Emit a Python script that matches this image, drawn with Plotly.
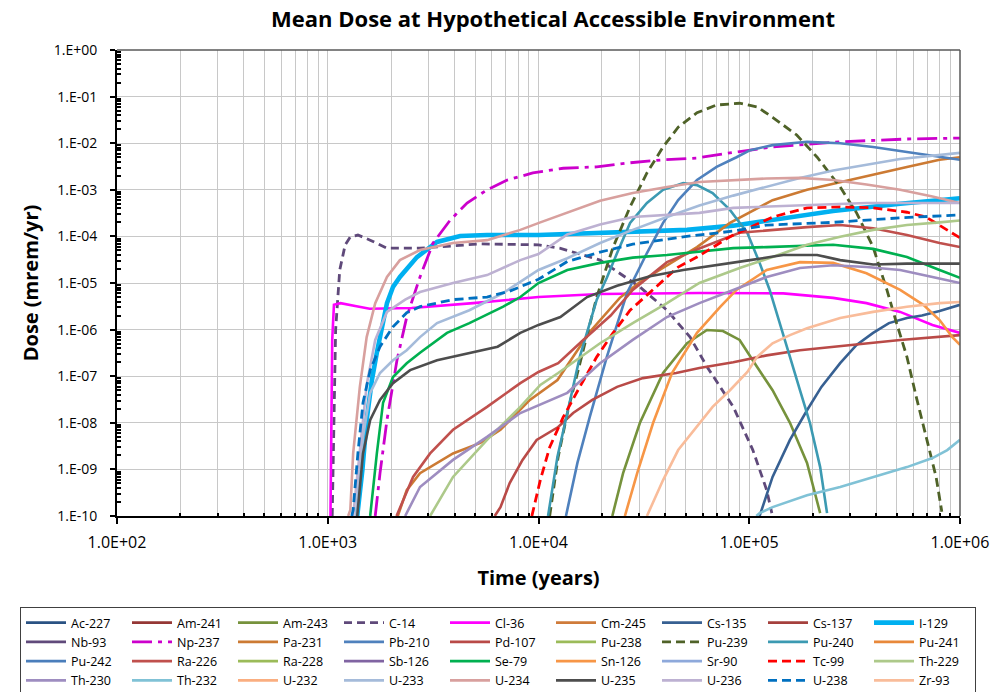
import plotly.graph_objects as go

# ---- Mean dose (mrem/yr) versus time (years) for each nuclide ----
# Nuclides whose dose never rises above the plotted floor have empty lists.
t_ac227 = []
d_ac227 = []
t_am241 = []
d_am241 = []
t_am243 = [2.24e4, 2.52e4, 3.03e4, 3.9e4, 5.07e4, 6.3e4, 7.5e4, 9.0e4, 1.09e5, 1.29e5, 1.56e5, 1.88e5, 2.17e5]
d_am243 = [1e-10, 8.3e-10, 1.0e-8, 1.17e-7, 5.1e-7, 9.8e-7, 9.3e-7, 6.0e-7, 1.58e-7, 5.0e-8, 1.0e-8, 1.38e-9, 1.15e-10]
t_c14 = [1.05e3, 1.07e3, 1.09e3, 1.14e3, 1.21e3, 1.28e3, 1.39e3, 1.59e3, 1.91e3, 2.74e3, 5.3e3, 1.0e4,
         1.26e4, 1.96e4, 3.03e4, 4.07e4, 5.24e4, 6.3e4, 8.4e4, 1.04e5, 1.21e5, 1.28e5]
d_c14 = [1e-10, 3.1e-8, 1.0e-6, 1.9e-5, 6.6e-5, 9.8e-5, 1.07e-4, 8.3e-5, 5.6e-5, 5.6e-5, 6.9e-5, 6.6e-5,
         5.6e-5, 3.1e-5, 8.2e-6, 2.6e-6, 6.9e-7, 1.6e-7, 2.2e-8, 2.6e-9, 3.6e-10, 1.15e-10]
t_cl36 = [1.03e3, 1.04e3, 1.05e3, 1.07e3, 1.15e3, 1.35e3, 1.58e3, 2.5e3, 4.9e3, 1.0e4, 1.96e4, 5.8e4,
          1.45e5, 2.5e5, 3.6e5, 5.2e5, 7.4e5, 1.0e6]
d_cl36 = [1e-10, 1.15e-8, 6.0e-7, 3.4e-6, 3.7e-6, 3.2e-6, 2.8e-6, 2.9e-6, 3.7e-6, 5.0e-6, 5.8e-6, 6.1e-6,
          6.0e-6, 4.8e-6, 3.7e-6, 2.4e-6, 1.26e-6, 8.5e-7]
t_cm245 = []
d_cm245 = []
t_cs135 = [1.12e5, 1.29e5, 1.56e5, 1.88e5, 2.2e5, 2.7e5, 3.23e5, 3.87e5, 4.6e5, 5.6e5, 6.6e5, 8.0e5, 1.0e6]
d_cs135 = [1e-10, 6.9e-10, 4.3e-9, 1.86e-8, 5.9e-8, 1.9e-7, 4.7e-7, 8.5e-7, 1.38e-6, 1.78e-6, 2.0e-6, 2.5e-6, 3.4e-6]
t_cs137 = []
d_cs137 = []
t_i129 = [1.38e3, 1.46e3, 1.53e3, 1.62e3, 1.71e3, 1.83e3, 1.91e3, 2.04e3, 2.2e3, 2.65e3, 3.3e3, 4.25e3,
          5.7e3, 1.0e4, 1.96e4, 5.07e4, 8.4e4, 1.21e5, 2.5e5, 5.2e5, 1.0e6]
d_i129 = [1e-10, 9.8e-10, 1.15e-8, 8.3e-8, 3.2e-7, 1.26e-6, 3.7e-6, 8.2e-6, 1.35e-5, 3.6e-5, 7.6e-5, 1.02e-4,
          1.07e-4, 1.07e-4, 1.18e-4, 1.38e-4, 1.7e-4, 2.2e-4, 3.5e-4, 5.0e-4, 6.6e-4]
t_nb93 = []
d_nb93 = []
t_np237 = [1.68e3, 1.77e3, 1.91e3, 2.13e3, 2.37e3, 2.74e3, 3.16e3, 3.8e3, 4.58e3, 5.7e3, 7.1e3, 9.4e3,
           1.31e4, 1.89e4, 2.72e4, 3.9e4, 5.65e4, 8.1e4, 1.29e5, 2.7e5, 5.6e5, 1.0e6]
d_np237 = [1e-10, 8.3e-10, 1.15e-8, 2.2e-7, 1.86e-6, 1.35e-5, 7.2e-5, 2.2e-4, 5.2e-4, 1.0e-3, 1.62e-3, 2.3e-3,
           2.9e-3, 3.1e-3, 3.8e-3, 4.4e-3, 4.8e-3, 6.2e-3, 8.3e-3, 1.07e-2, 1.23e-2, 1.29e-2]
t_pa231 = [2.15e3, 2.37e3, 2.74e3, 3.93e3, 5.3e3, 6.6e3, 9.1e3, 1.23e4, 1.75e4, 2.43e4, 3.03e4, 4.3e4,
           5.65e4, 8.1e4, 1.01e5, 1.29e5, 1.88e5, 2.7e5, 3.87e5, 5.6e5, 8.0e5, 1.0e6]
d_pa231 = [1e-10, 3.6e-10, 8.3e-10, 2.2e-9, 3.7e-9, 7.1e-9, 3.1e-8, 8.3e-8, 8.9e-7, 4.8e-6, 1.05e-5, 2.8e-5,
           5.9e-5, 1.95e-4, 3.3e-4, 6.0e-4, 1.0e-3, 1.47e-3, 2.1e-3, 3.1e-3, 4.4e-3, 5.0e-3]
t_pb210 = [1.35e4, 1.53e4, 1.75e4, 2.11e4, 2.63e4, 3.27e4, 3.9e4, 4.6e4, 5.65e4, 7.0e4, 8.7e4, 1.01e5,
           1.29e5, 1.88e5, 2.7e5, 3.87e5, 5.6e5, 8.0e5, 1.0e6]
d_pb210 = [1e-10, 1.38e-9, 1.32e-8, 2.6e-7, 6.1e-6, 4.4e-5, 1.95e-4, 6.0e-4, 1.62e-3, 3.1e-3, 5.0e-3, 7.1e-3,
           9.1e-3, 1.07e-2, 1.0e-2, 8.3e-3, 6.5e-3, 5.0e-3, 4.4e-3]
t_pd107 = [6.2e3, 6.6e3, 7.3e3, 8.4e3, 9.8e3, 1.24e4, 1.46e4, 1.8e4, 2.36e4, 3.13e4, 4.5e4, 5.8e4, 8.4e4,
           1.21e5, 1.74e5, 2.5e5, 3.6e5, 5.2e5, 1.0e6]
d_pd107 = [1e-10, 1.55e-10, 5.1e-10, 1.6e-9, 4.3e-9, 8.1e-9, 1.62e-8, 3.1e-8, 5.9e-8, 9.1e-8, 1.17e-7, 1.5e-7,
           2.0e-7, 2.8e-7, 3.6e-7, 4.3e-7, 5.1e-7, 6.0e-7, 7.6e-7]
t_pu238 = []
d_pu238 = []
t_pu239 = [1.13e4, 1.24e4, 1.38e4, 1.6e4, 1.89e4, 2.26e4, 2.72e4, 3.27e4, 3.9e4, 4.6e4, 5.65e4, 7.0e4, 9.0e4,
           1.09e5, 1.29e5, 1.68e5, 2.1e5, 2.7e5, 3.23e5, 3.87e5, 4.5e5, 5.0e5, 5.6e5, 6.2e5, 6.9e5, 7.7e5, 8.2e5]
d_pu239 = [1e-10, 1.86e-9, 1.86e-8, 2.6e-7, 5.0e-6, 5.9e-5, 4.3e-4, 2.3e-3, 8.3e-3, 2.2e-2, 4.5e-2, 6.6e-2, 7.2e-2,
           6.0e-2, 3.6e-2, 1.5e-2, 5.0e-3, 1.15e-3, 3.2e-4, 5.9e-5, 7.1e-6, 1.38e-6, 2.6e-7, 3.6e-8, 5.0e-9,
           6.9e-10, 1.23e-10]
t_pu240 = [1.11e4, 1.23e4, 1.37e4, 1.57e4, 1.89e4, 2.11e4, 2.36e4, 2.72e4, 3.27e4, 3.9e4, 4.86e4, 5.65e4,
           6.7e4, 8.1e4, 9.8e4, 1.12e5, 1.25e5, 1.39e5, 1.56e5, 1.74e5, 1.94e5, 2.17e5, 2.34e5]
d_pu240 = [1e-10, 1.86e-9, 1.62e-8, 2.6e-7, 4.4e-6, 1.29e-5, 4.4e-5, 1.95e-4, 5.2e-4, 1.0e-3, 1.4e-3, 1.26e-3,
           8.5e-4, 3.7e-4, 1.18e-4, 2.7e-5, 7.1e-6, 1.38e-6, 2.6e-7, 5.0e-8, 1.0e-8, 1.12e-9, 1.15e-10]
t_pu241 = []
d_pu241 = []
t_pu242 = []
d_pu242 = []
t_ra226 = [2.12e3, 2.54e3, 3.06e3, 3.93e3, 5.7e3, 8.2e3, 1.0e4, 1.24e4, 1.63e4, 2.2e4, 2.8e4, 4.07e4, 5.8e4,
           9.0e4, 1.88e5, 2.7e5, 3.87e5, 5.6e5, 8.0e5, 1.0e6]
d_ra226 = [1e-10, 6.9e-10, 2.2e-9, 7.1e-9, 2.2e-8, 7.1e-8, 1.23e-7, 1.9e-7, 6.0e-7, 2.0e-6, 7.1e-6, 2.8e-5, 5.5e-5,
           1.2e-4, 1.58e-4, 1.75e-4, 1.5e-4, 1.07e-4, 7.2e-5, 5.9e-5]
t_ra228 = []
d_ra228 = []
t_sb126 = []
d_sb126 = []
t_se79 = [1.59e3, 1.71e3, 1.83e3, 2.04e3, 2.37e3, 2.74e3, 3.68e3, 4.7e3, 6.8e3, 8.2e3, 1.0e4, 1.37e4, 1.96e4,
          2.8e4, 4.07e4, 5.8e4, 8.4e4, 1.21e5, 2.5e5, 3.87e5, 5.6e5, 8.0e5, 1.0e6]
d_se79 = [1e-10, 2.2e-9, 2.7e-8, 9.6e-8, 1.9e-7, 3.2e-7, 8.5e-7, 1.38e-6, 3.1e-6, 5.0e-6, 1.0e-5, 1.9e-5, 2.7e-5,
          3.5e-5, 4.0e-5, 4.7e-5, 5.6e-5, 5.9e-5, 6.6e-5, 5.4e-5, 3.6e-5, 1.9e-5, 1.29e-5]
t_sn126 = [2.57e4, 2.94e4, 3.5e4, 4.3e4, 5.65e4, 7.3e4, 8.7e4, 1.21e5, 1.74e5, 2.5e5, 3.6e5, 5.2e5, 6.7e5,
           8.0e5, 9.2e5, 1.0e6]
d_sn126 = [1e-10, 8.3e-10, 1.0e-8, 1.17e-7, 8.5e-7, 3.1e-6, 7.1e-6, 1.9e-5, 2.8e-5, 2.7e-5, 1.62e-5, 7.1e-6,
           3.4e-6, 1.6e-6, 6.9e-7, 4.7e-7]
t_sr90 = []
d_sr90 = []
t_tc99 = [9.3e3, 1.02e4, 1.13e4, 1.31e4, 1.57e4, 1.89e4, 2.26e4, 2.72e4, 3.27e4, 3.9e4, 4.6e4, 5.65e4, 6.7e4,
          8.1e4, 9.0e4, 1.29e5, 1.88e5, 2.7e5, 3.87e5, 5.6e5, 6.9e5, 8.2e5, 1.0e6]
d_tc99 = [1e-10, 5.9e-10, 3.0e-9, 1.32e-8, 5.9e-8, 2.6e-7, 8.5e-7, 2.6e-6, 5.5e-6, 1.15e-5, 2.2e-5, 3.6e-5, 5.9e-5,
          9.8e-5, 1.23e-4, 2.6e-4, 4.1e-4, 4.3e-4, 4.1e-4, 3.3e-4, 2.6e-4, 1.58e-4, 9.3e-5]
t_th229 = [3.06e3, 3.93e3, 5.7e3, 8.2e3, 1.02e4, 1.24e4, 1.96e4, 2.8e4, 4.07e4, 5.8e4, 9.0e4, 1.29e5, 1.88e5,
           2.7e5, 3.87e5, 5.6e5, 8.0e5, 1.0e6]
d_th229 = [1e-10, 6.9e-10, 4.3e-9, 2.2e-8, 6.5e-8, 1.17e-7, 5.1e-7, 1.38e-6, 3.7e-6, 1.0e-5, 2.1e-5, 3.6e-5, 6.6e-5,
           9.8e-5, 1.38e-4, 1.75e-4, 2.0e-4, 2.2e-4]
t_th230 = [2.33e3, 2.74e3, 3.93e3, 5.7e3, 8.2e3, 1.0e4, 1.37e4, 1.96e4, 2.8e4, 4.07e4, 5.8e4, 8.4e4, 1.21e5,
           1.74e5, 2.5e5, 3.6e5, 5.2e5, 7.4e5, 1.0e6]
d_th230 = [1e-10, 4.2e-10, 1.6e-9, 5.0e-9, 1.62e-8, 2.4e-8, 4.4e-8, 1.9e-7, 6.0e-7, 1.86e-6, 3.7e-6, 7.1e-6, 1.35e-5,
           2.1e-5, 2.4e-5, 2.2e-5, 1.9e-5, 1.35e-5, 1.0e-5]
t_th232 = [1.08e5, 1.12e5, 1.29e5, 1.88e5, 2.7e5, 3.87e5, 5.6e5, 7.4e5, 8.7e5, 1.0e6]
d_th232 = [1e-10, 1.15e-10, 1.55e-10, 2.8e-10, 4.2e-10, 6.9e-10, 1.12e-9, 1.75e-9, 2.6e-9, 4.3e-9]
t_u232 = []
d_u232 = []
t_u233 = [1.36e3, 1.47e3, 1.59e3, 1.77e3, 2.04e3, 2.37e3, 2.74e3, 3.3e3, 4.7e3, 6.8e3, 1.0e4, 1.37e4, 1.96e4,
          2.8e4, 4.07e4, 5.8e4, 8.4e4, 1.21e5, 1.74e5, 2.5e5, 3.6e5, 5.2e5, 1.0e6]
d_u233 = [1e-10, 5.0e-9, 4.4e-8, 1.17e-7, 2.2e-7, 3.6e-7, 6.9e-7, 1.38e-6, 2.6e-6, 6.1e-6, 1.9e-5, 3.4e-5, 7.2e-5,
          1.38e-4, 2.6e-4, 4.6e-4, 7.5e-4, 1.15e-3, 1.8e-3, 2.6e-3, 3.5e-3, 4.6e-3, 6.2e-3]
t_u234 = [1.25e3, 1.28e3, 1.32e3, 1.42e3, 1.53e3, 1.68e3, 1.91e3, 2.2e3, 2.74e3, 3.93e3, 5.7e3, 8.2e3, 1.02e4,
          1.96e4, 2.8e4, 4.07e4, 5.8e4, 1.21e5, 1.74e5, 2.5e5, 3.6e5, 5.2e5, 7.4e5, 1.0e6]
d_u234 = [1e-10, 1.35e-10, 2.2e-9, 5.9e-8, 6.9e-7, 3.7e-6, 1.35e-5, 3.1e-5, 5.1e-5, 7.2e-5, 8.3e-5, 1.38e-4, 2.0e-4,
          5.8e-4, 8.5e-4, 1.15e-3, 1.47e-3, 1.75e-3, 1.8e-3, 1.62e-3, 1.3e-3, 1.0e-3, 7.2e-4, 5.2e-4]
t_u235 = [1.38e3, 1.47e3, 1.59e3, 1.77e3, 2.04e3, 2.46e3, 3.3e3, 4.7e3, 6.4e3, 8.2e3, 1.0e4, 1.27e4, 1.7e4,
          2.36e4, 3.38e4, 4.86e4, 7.0e4, 1.01e5, 1.45e5, 2.1e5, 2.7e5, 3.87e5, 5.6e5, 1.0e6]
d_u235 = [1e-10, 2.2e-9, 1.15e-8, 3.1e-8, 7.1e-8, 1.35e-7, 2.2e-7, 3.2e-7, 4.3e-7, 8.5e-7, 1.26e-6, 1.86e-6, 5.0e-6,
          8.7e-6, 1.4e-5, 1.9e-5, 2.4e-5, 3.1e-5, 4.0e-5, 4.0e-5, 3.1e-5, 2.5e-5, 2.6e-5, 2.6e-5]
t_u236 = [1.32e3, 1.42e3, 1.53e3, 1.68e3, 1.91e3, 2.33e3, 2.74e3, 3.93e3, 5.7e3, 8.2e3, 1.0e4, 1.37e4, 1.96e4,
          2.8e4, 5.8e4, 8.4e4, 1.74e5, 3.6e5, 1.0e6]
d_u236 = [1e-10, 2.6e-9, 6.5e-8, 6.0e-7, 2.4e-6, 4.4e-6, 6.4e-6, 1.0e-5, 1.48e-5, 3.1e-5, 4.2e-5, 1.1e-4, 1.8e-4,
          2.6e-4, 3.2e-4, 4.1e-4, 4.7e-4, 5.2e-4, 5.2e-4]
t_u238 = [1.30e3, 1.32e3, 1.39e3, 1.47e3, 1.59e3, 1.77e3, 2.04e3, 2.37e3, 2.74e3, 3.93e3, 5.7e3, 7.3e3, 1.0e4,
          1.37e4, 1.96e4, 2.8e4, 4.86e4, 8.4e4, 1.21e5, 2.5e5, 5.2e5, 1.0e6]
d_u238 = [1e-10, 1.35e-10, 2.2e-9, 2.7e-8, 1.35e-7, 4.3e-7, 1.15e-6, 2.3e-6, 3.1e-6, 4.4e-6, 5.0e-6, 6.7e-6, 1.2e-5,
          2.9e-5, 4.6e-5, 6.8e-5, 9.8e-5, 1.3e-4, 1.75e-4, 2.0e-4, 2.5e-4, 2.9e-4]
t_zr93 = [3.27e4, 3.9e4, 4.6e4, 5.65e4, 6.7e4, 8.1e4, 9.8e4, 1.09e5, 1.29e5, 1.56e5, 1.88e5, 2.7e5, 3.87e5,
          5.6e5, 8.0e5, 1.0e6]
d_zr93 = [1e-10, 5.9e-10, 2.6e-9, 8.1e-9, 2.2e-8, 5.0e-8, 1.23e-7, 2.6e-7, 5.1e-7, 7.6e-7, 1.07e-6, 1.78e-6, 2.4e-6,
          3.1e-6, 3.7e-6, 3.9e-6]

# ---- Axis ticks ----
x_tick_vals = [1e2, 1e3, 1e4, 1e5, 1e6]
x_tick_text = ["1.0E+02", "1.0E+03", "1.0E+04", "1.0E+05", "1.0E+06"]
y_tick_vals = [1e0, 1e-1, 1e-2, 1e-3, 1e-4, 1e-5, 1e-6, 1e-7, 1e-8, 1e-9, 1e-10]
y_tick_text = ["1.E+00", "1.E-01", "1.E-02", "1.E-03", "1.E-04", "1.E-05",
               "1.E-06", "1.E-07", "1.E-08", "1.E-09", "1.E-10"]

# ---- Series table: name, data, colour, dash pattern, width ----
DASH = "9px,5px"
series = [
    ("Ac-227", t_ac227, d_ac227, "#2A5283", "solid", 2.6),
    ("Am-241", t_am241, d_am241, "#953735", "solid", 2.6),
    ("Am-243", t_am243, d_am243, "#76923C", "solid", 2.6),
    ("C-14", t_c14, d_c14, "#5F497A", "8px,5px", 2.8),
    ("Cl-36", t_cl36, d_cl36, "#FF00FF", "solid", 2.6),
    ("Cm-245", t_cm245, d_cm245, "#CF7B3A", "solid", 2.6),
    ("Cs-135", t_cs135, d_cs135, "#376092", "solid", 2.6),
    ("Cs-137", t_cs137, d_cs137, "#A5403D", "solid", 2.6),
    ("I-129", t_i129, d_i129, "#00B0F0", "solid", 4.6),
    ("Nb-93", t_nb93, d_nb93, "#604A7B", "solid", 2.6),
    ("Np-237", t_np237, d_np237, "#CC00CC", "20px,6px,4px,6px", 2.8),
    ("Pa-231", t_pa231, d_pa231, "#CC7A33", "solid", 2.6),
    ("Pb-210", t_pb210, d_pb210, "#4F81BD", "solid", 2.6),
    ("Pd-107", t_pd107, d_pd107, "#B94A47", "solid", 2.6),
    ("Pu-238", t_pu238, d_pu238, "#9BBB59", "solid", 2.6),
    ("Pu-239", t_pu239, d_pu239, "#4F6228", DASH, 2.8),
    ("Pu-240", t_pu240, d_pu240, "#3C9AB2", "solid", 2.6),
    ("Pu-241", t_pu241, d_pu241, "#E8883A", "solid", 2.6),
    ("Pu-242", t_pu242, d_pu242, "#4A7EBB", "solid", 2.6),
    ("Ra-226", t_ra226, d_ra226, "#C0504D", "solid", 2.6),
    ("Ra-228", t_ra228, d_ra228, "#9BBB59", "solid", 2.6),
    ("Sb-126", t_sb126, d_sb126, "#8064A2", "solid", 2.6),
    ("Se-79", t_se79, d_se79, "#00B050", "solid", 2.6),
    ("Sn-126", t_sn126, d_sn126, "#F79646", "solid", 2.6),
    ("Sr-90", t_sr90, d_sr90, "#8EA9DB", "solid", 2.6),
    ("Tc-99", t_tc99, d_tc99, "#FF0000", DASH, 2.8),
    ("Th-229", t_th229, d_th229, "#ADC98A", "solid", 2.6),
    ("Th-230", t_th230, d_th230, "#9E8DC0", "solid", 2.6),
    ("Th-232", t_th232, d_th232, "#80C2D6", "solid", 2.6),
    ("U-232", t_u232, d_u232, "#FAAE80", "solid", 2.6),
    ("U-233", t_u233, d_u233, "#A5BBDA", "solid", 2.6),
    ("U-234", t_u234, d_u234, "#D8A09E", "solid", 2.6),
    ("U-235", t_u235, d_u235, "#4D4D4D", "solid", 2.6),
    ("U-236", t_u236, d_u236, "#BDB1D2", "solid", 2.6),
    ("U-238", t_u238, d_u238, "#0070C0", DASH, 2.8),
    ("Zr-93", t_zr93, d_zr93, "#F9BC9A", "solid", 2.6),
]

fig = go.Figure()
for name, t, d, color, dash, width in series:
    # a single null point keeps a legend entry for nuclides with nothing to draw
    fig.add_trace(go.Scatter(
        x=t if t else [None], y=d if d else [None], name=name, mode="lines",
        line=dict(color=color, width=width, dash=dash),
    ))

minor_x = [m * 10 ** k for k in range(2, 6) for m in range(2, 10)]
minor_y = [m * 10.0 ** k for k in range(-10, 0) for m in range(2, 10)]
grid = "#C8C8C8"
FONT = "'Open Sans', 'DejaVu Sans', sans-serif"

# plot area: x 117..960 px, y 50..516 px
L, R, T, B = 117, 30, 50, 176
W, H = 990, 692
pw = W - L - R
ph = H - T - B

fig.update_layout(
    width=W, height=H,
    margin=dict(l=L, r=R, t=T, b=B, autoexpand=False),
    paper_bgcolor="white", plot_bgcolor="white",
    font=dict(family=FONT, color="black"),
    title=dict(text="<b>Mean Dose at Hypothetical Accessible Environment</b>",
               x=553 / W, xanchor="center", y=1 - 19 / H, yanchor="middle",
               font=dict(size=22, color="black")),
    xaxis=dict(
        type="log", range=[2, 6],
        tickmode="array", tickvals=x_tick_vals, ticktext=x_tick_text,
        tickfont=dict(size=16), ticks="outside", ticklen=6, tickwidth=1.5, tickcolor="black",
        ticklabelstandoff=5,
        showgrid=True, gridcolor=grid, gridwidth=1,
        minor=dict(tickmode="array", tickvals=minor_x, ticks="inside", ticklen=3,
                   tickcolor="black", showgrid=True, gridcolor=grid, gridwidth=1),
        showline=True, linecolor="black", linewidth=2, zeroline=False,
        title=dict(text="<b>Time (years)</b>", font=dict(size=20), standoff=19),
    ),
    yaxis=dict(
        type="log", range=[-10, 0],
        tickmode="array", tickvals=y_tick_vals, ticktext=y_tick_text,
        tickfont=dict(size=14), ticks="outside", ticklen=5, tickwidth=1.5, tickcolor="black",
        ticklabelstandoff=10,
        showgrid=True, gridcolor=grid, gridwidth=1,
        minor=dict(tickmode="array", tickvals=minor_y, ticks="inside", ticklen=4,
                   tickcolor="black", showgrid=False),
        showline=True, linecolor="black", linewidth=2, zeroline=False,
        title=dict(text="<b>Dose (mrem/yr)</b>", font=dict(size=20), standoff=10),
    ),
    legend=dict(
        orientation="h", traceorder="normal",
        x=(20 - L) / pw, xanchor="left",
        y=(516 - 607) / ph, yanchor="top",
        entrywidth=51, itemwidth=40,
        font=dict(size=12.5), bordercolor="#404040", borderwidth=1,
        bgcolor="white",
    ),
    shapes=[
        dict(type="line", xref="paper", yref="paper", x0=0, x1=1, y0=1, y1=1,
             line=dict(color="#595959", width=1.5)),
        dict(type="line", xref="paper", yref="paper", x0=1, x1=1, y0=0, y1=1,
             line=dict(color="#595959", width=1.5)),
    ],
)

fig.write_html("out.html")
